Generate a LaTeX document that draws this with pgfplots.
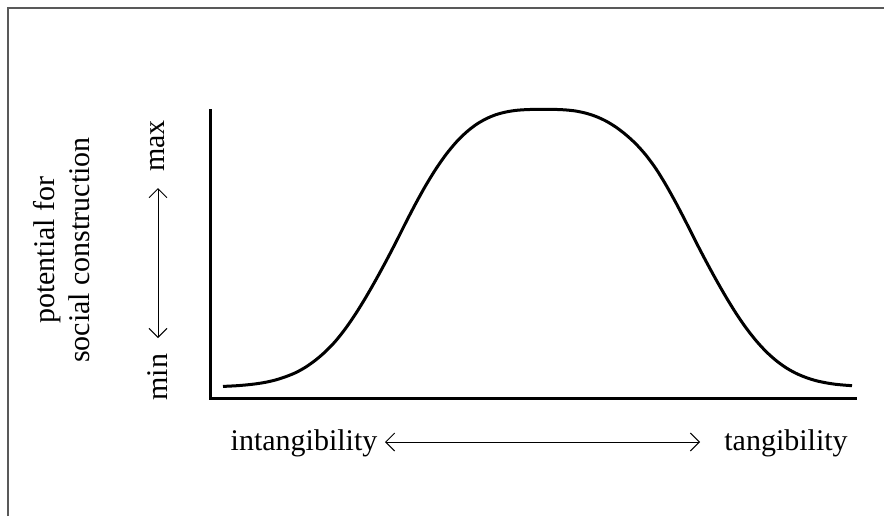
\documentclass[border=0pt]{standalone}
\usepackage{pgfplots}
\pgfplotsset{compat=1.18}
\usepackage{fontspec}
\setmainfont{Liberation Serif}
\usetikzlibrary{arrows.meta}
\begin{document}
\begin{tikzpicture}[x=1pt,y=1pt]
\useasboundingbox (0,0) rectangle (442,258);
% frame (top and left edges)
\draw[line width=0.6pt, color=black!65] (4,0) -- (4,254) -- (442,254);
\begin{axis}[
  scale only axis,
  width=323.5pt, height=141.5pt,
  at={(105pt,59pt)}, anchor=south west,
  xmin=210, xmax=857, ymin=0, ymax=283,
  axis line style={draw=none},
  xtick=\empty, ytick=\empty,
  clip=false,
]
\draw[line width=1.5pt, line join=miter] (axis cs:210,283) -- (axis cs:210,0) -- (axis cs:857,0);
\addplot[black, line width=1.5pt, smooth] coordinates {
(223,11.4) (226,11.5) (236,12.0) (246,12.8) (256,13.9) (266,15.5) (276,17.8)
(286,21.0) (296,25.0) (306,30.5) (316,37.5) (326,46.0) (336,56.3) (346,68.8)
(356,83.1) (366,99.0) (376,116.1) (386,134.1) (396,152.9) (406,172.4)
(416,191.2) (426,208.8) (436,224.7) (446,238.7) (456,250.6) (466,260.3)
(476,268.0) (486,273.7) (496,277.8) (506,280.4) (516,282.0) (526,282.7)
(536,283.0) (546,283.0)
(556,282.9) (566,282.4) (576,281.3) (586,279.2) (596,276.0) (606,271.5)
(616,265.5) (626,258.0) (636,249.0) (646,238.0) (656,224.7) (666,208.8)
(676,191.2) (686,172.4) (696,152.9) (706,134.1) (716,116.1) (726,99.0)
(736,83.1) (746,68.8) (756,56.3) (766,45.6) (776,36.8) (786,29.7)
(796,24.2) (806,20.1) (816,17.0) (826,14.9) (836,13.4) (846,12.5) (852,12.1)
};
\end{axis}
\begin{scope}[font=\fontsize{15}{17.5}\selectfont]
\node[rotate=90, align=center] at (31,133) {potential for\\social construction};
\node[rotate=90] at (79,185) {max};
\node[rotate=90] at (79,69.5) {min};
\node at (152,36.5) {intangibility};
\node at (393,36.5) {tangibility};
\end{scope}
\draw[line width=0.5pt, {Straight Barb[length=4.5pt,width=9pt]}-{Straight Barb[length=4.5pt,width=9pt]}] (192.5,37) -- (350,37);
\draw[line width=0.5pt, {Straight Barb[length=4.5pt,width=9pt]}-{Straight Barb[length=4.5pt,width=9pt]}] (79,89) -- (79,164);
\end{tikzpicture}
\end{document}
